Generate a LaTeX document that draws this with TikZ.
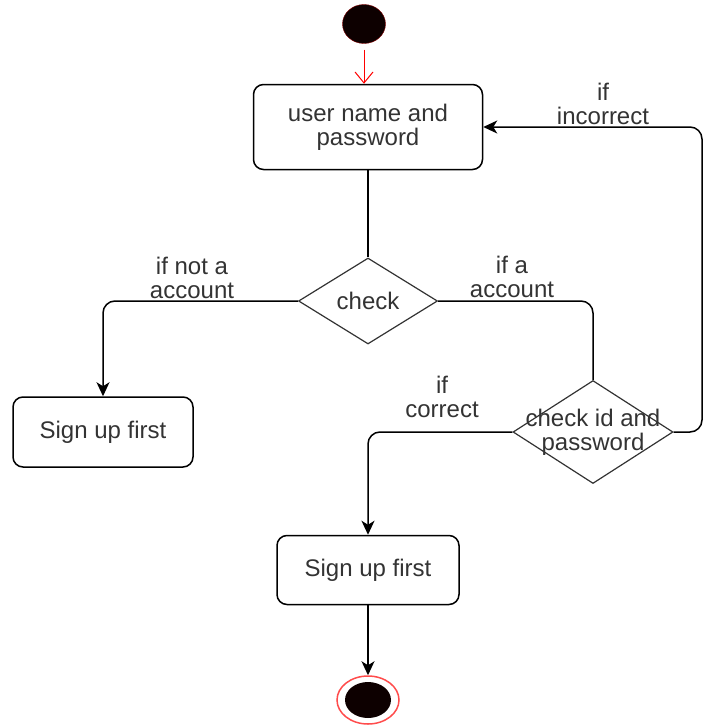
\documentclass[tikz,border=0pt]{standalone}
\usepackage{fontspec}
\setmainfont{Liberation Sans}
\usetikzlibrary{shapes.geometric,arrows.meta}
\definecolor{txtgray}{HTML}{333333}
\definecolor{dotfill}{HTML}{0D0000}

\begin{document}
\begin{tikzpicture}[x=1pt,y=-1pt,
	font=\fontsize{24}{24}\selectfont, text=txtgray,
	act/.style={draw=black, line width=1.5pt, rounded corners=10pt, align=center, inner sep=0pt},
	decision/.style={diamond, draw=black!80, line width=1.2pt, inner sep=0pt, align=center},
	lbl/.style={align=center, inner sep=0pt},
	flow/.style={line width=1.5pt, rounded corners=12pt},
	arr/.style={flow, -{Stealth[length=14pt,width=13pt,inset=4pt]}}]
	\useasboundingbox (0,0) rectangle (704,725);
	\node[ellipse, fill=dotfill, draw=red!50!black, inner sep=0pt, minimum width=43pt, minimum height=39pt] (start) at (364,24) {};
	\node[act, minimum width=229pt, minimum height=85pt] (user) at (368,127) {user name and\\password};
	\node[decision, minimum width=139pt, minimum height=86pt] (check) at (368,301) {check};
	\node[act, minimum width=180pt, minimum height=70pt] (signA) at (103,432) {Sign up first};
	\node[decision, minimum width=160pt, minimum height=103pt, label={[align=center, inner sep=0pt]center:check id and\\password}] (chkid) at (593,432) {};
	\node[act, minimum width=182pt, minimum height=69pt] (signB) at (368,570) {Sign up first};
	\node[ellipse, draw=red!70, line width=1.5pt, inner sep=0pt, minimum width=62pt, minimum height=48pt] (fin) at (368,700) {};
	\node[ellipse, fill=dotfill, inner sep=0pt, minimum width=46pt, minimum height=36pt] (findot) at (fin) {};
	\coordinate (loop) at (702,432);
	\node[lbl] (notAcc) at (192,278) {if not a\\account};
	\node[lbl] (isAcc) at (512,277) {if a\\account};
	\node[lbl] (wrong) at (603,104) {if\\incorrect};
	\node[lbl] (right) at (442,397) {if\\correct};
	\draw[red, line width=1pt, shorten <=6pt, -{Straight Barb[length=11pt,width=18pt]}] (start.south) -- (start.south |- user.north);
	\draw[flow] (user.south) -- (check.north);
	\draw[arr] (check.west) -| (signA.north);
	\draw[flow] (check.east) -| (chkid.north);
	\draw[arr] (chkid.west) -| (signB.north);
	\draw[arr] (chkid.east) -- (loop) |- (user.east);
	\draw[arr] (signB.south) -- (fin.north);
\end{tikzpicture}
\end{document}
